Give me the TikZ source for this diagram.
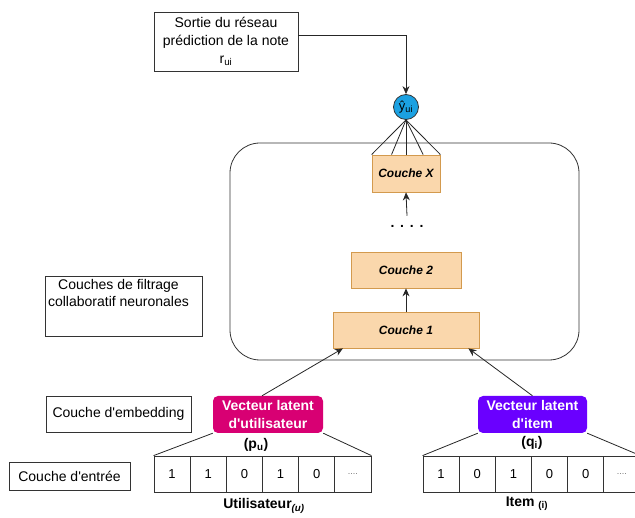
\documentclass[tikz,border=0pt]{standalone}
\usepackage{fontspec}
\setmainfont{Liberation Sans}
\usetikzlibrary{arrows.meta,calc}
\definecolor{couchefill}{HTML}{FAD7AC}
\definecolor{couchedraw}{HTML}{D39A4E}
\definecolor{magentav}{HTML}{D80073}
\definecolor{violetv}{HTML}{6A00FF}
\definecolor{bluec}{HTML}{1BA1E2}
\newcommand\fsz[2]{\fontsize{#1pt}{#2pt}\selectfont}
\newcommand\fourdots{{\fsz{9}{9}\color{black!55}....}}
\newcommand\apos{\textquotesingle}
\tikzset{
  lbl/.style={draw=black!80, line width=0.8pt, inner sep=0pt, font=\fsz{14}{17}},
  couche/.style={draw=couchedraw, fill=couchefill, line width=0.8pt, font=\fsz{12}{14}\bfseries\itshape, inner sep=0pt},
  vect/.style={rounded corners=5pt, text=white, font=\fsz{14}{17.5}\bfseries, align=center, inner sep=0pt, minimum height=37pt},
  cell/.style={draw=black!80, line width=0.8pt, minimum width=36.17pt, minimum height=36pt, inner sep=0pt, font=\fsz{13}{13}},
  arr/.style={-{Stealth[length=8pt,width=7pt]}, line width=0.8pt, draw=black!85},
  conn/.style={line width=0.8pt, draw=black!85},
  plain/.style={inner sep=0pt}
}
\begin{document}
\begin{tikzpicture}[x=1pt,y=-1pt]
\useasboundingbox (0,0) rectangle (635,518);

% output box
\node[lbl, minimum width=144pt, minimum height=59pt, align=center, font=\fsz{14}{18}] (out) at (226,41.5) {Sortie du réseau\\prédiction de la note\\r\textsubscript{ui}};

% circle
\node[circle, draw=black!80, line width=0.8pt, fill=bluec, minimum size=25pt, inner sep=0pt, font=\fsz{13}{13}] (y) at (406,107) {ŷ\textsubscript{ui}};

% rounded NCF container
\node[draw=black!80, line width=0.8pt, rounded corners=30pt, minimum width=349pt, minimum height=217pt] (ncf) at (404.5,251.5) {};

% layers
\node[couche, minimum width=68pt, minimum height=37pt] (cx) at (406,173.5) {Couche X};
\node[couche, minimum width=110pt, minimum height=36pt] (c2) at (406,270) {Couche 2};
\node[couche, minimum width=146pt, minimum height=36pt] (c1) at (406,330) {Couche 1};
\node[plain, font=\fsz{14}{14}\bfseries] (dots) at (407,226) {.\hspace{5.8pt}.\hspace{5.8pt}.\hspace{5.8pt}.};

\draw[arr] (c1.north) -- (c2.south);
\draw[arr] ([yshift=9pt]dots.north) -- (cx.south);
\foreach \f in {0,0.29,0.5,0.75,1}
  \draw[conn] (y.south) -- ($(cx.north west)!\f!(cx.north east)$);
\draw[arr] ([yshift=6.5pt]out.east) -| (y.north);

% left labels
\node[lbl, minimum width=157pt, minimum height=60pt] (filt) at (123.5,306) {};
\node[plain, anchor=north, align=center, font=\fsz{14}{17}] (filttxt) at ([xshift=-5pt,yshift=-4pt]filt.north) {Couches de filtrage\\collaboratif neuronales};
\node[lbl, minimum width=145pt, minimum height=36pt] (emb) at (118.5,414) {Couche d\apos embedding};
\node[lbl, minimum width=121pt, minimum height=28pt] (ent) at (69.5,476) {Couche d\apos entrée};

% latent vectors
\node[vect, fill=magentav, minimum width=110pt] (vu) at (268,414.5) {Vecteur latent\\d\apos utilisateur};
\node[vect, fill=violetv, minimum width=109pt] (vi) at (532.5,414.5) {Vecteur latent\\d\apos item};
\node[plain, font=\fsz{14}{14}\bfseries] (pu) at (256,445) {(p\textsubscript{u})};
\node[plain, font=\fsz{14}{14}\bfseries] (qi) at (532,443) {(q\textsubscript{i})};

% input cells
\foreach \v [count=\i] in {1,1,0,1,0,\fourdots}
  \node[cell] (u\i) at ({154+36.17*(\i-0.5)},474) {\v};
\foreach \v [count=\i] in {1,0,1,0,0,\fourdots}
  \node[cell] (i\i) at ({423+36.17*(\i-0.5)},474) {\v};

\draw[conn] (vu.south west) -- (u1.north west);
\draw[conn] (vu.south east) -- (u6.north east);
\draw[conn] (vi.south west) -- (i1.north west);
\draw[conn] (vi.south east) -- (i6.north east);

\draw[arr] ([xshift=-6pt]vu.north) -- ($(c1.south west)!0.07!(c1.south east)$);
\draw[arr] (vi.north) -- ($(c1.south west)!0.925!(c1.south east)$);

% bottom labels
\node[plain, font=\fsz{14}{14}\bfseries] (ulab) at (264,506) {Utilisateur\textsubscript{\itshape(u)}};
\node[plain, font=\fsz{14}{14}\bfseries] (ilab) at (527,504) {Item \textsubscript{(i)}};
\end{tikzpicture}
\end{document}
